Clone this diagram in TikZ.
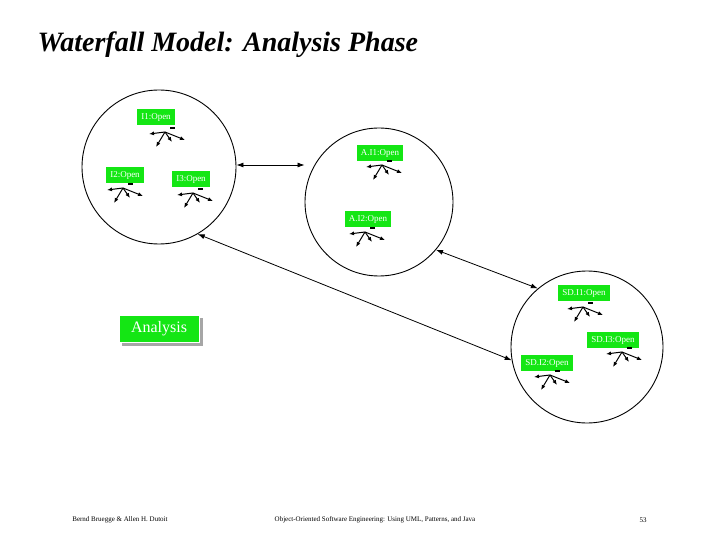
\documentclass[tikz,border=0pt]{standalone}
\usepackage{fontspec}
\setmainfont{Liberation Serif}
\usetikzlibrary{arrows.meta}
\begin{document}
\begin{tikzpicture}[x=1pt,y=-1pt,
  lbl/.style={fill={rgb,255:red,20;green,230;blue,20}, text=white, font=\fontsize{9}{10}\selectfont, inner xsep=4pt, inner ysep=4pt},
  circ/.style={draw=black, line width=0.9pt},
  link/.style={draw=black, line width=0.8pt, {Latex[length=7pt,width=5pt]}-{Latex[length=7pt,width=5pt]}},
  sa/.style={-{Latex[length=5pt,width=4pt]}, line width=1pt}]
\useasboundingbox (0,0) rectangle (720,540);
\newcommand{\mystar}[1]{%
  \draw[sa] (#1) -- ++(-16,2);
  \draw[sa] (#1) -- ++(-9,15);
  \draw[sa] (#1) -- ++(7,10);
  \draw[sa] (#1) -- ++(20,8);
  \draw[line width=2pt] (#1) ++(5,-4) -- ++(5,0);}
\node[anchor=west, font=\fontsize{28}{32}\selectfont\bfseries\itshape] (title) at (34,45) {Waterfall Model: Analysis Phase};
\node[circ, circle, minimum size=154pt] (c1) at (159,167) {};
\node[circ, circle, minimum size=148pt] (c2) at (379,202) {};
\node[circ, circle, minimum size=152pt] (c3) at (587,347) {};
\node[lbl] (i1) at (156,117) {I1:Open};
\node[lbl] (i2) at (125,175) {I2:Open};
\node[lbl] (i3) at (191,179) {I3:Open};
\node[lbl] (a1) at (380,153) {A.I1:Open};
\node[lbl] (a2) at (368,219) {A.I2:Open};
\node[lbl] (s1) at (584,293) {SD.I1:Open};
\node[lbl] (s3) at (613,340) {SD.I3:Open};
\node[lbl] (s2) at (547,363) {SD.I2:Open};
\coordinate (p1) at (165,132); \mystar{p1}
\coordinate (p2) at (123,188); \mystar{p2}
\coordinate (p3) at (193,193); \mystar{p3}
\coordinate (p4) at (382,165); \mystar{p4}
\coordinate (p5) at (365,232); \mystar{p5}
\coordinate (p6) at (583,307); \mystar{p6}
\coordinate (p7) at (622,352); \mystar{p7}
\coordinate (p8) at (550,375); \mystar{p8}
\fill[gray!70] (122,318) rectangle (203,346);
\node[fill={rgb,255:red,20;green,230;blue,20}, draw=white, line width=0.8pt, text=white, font=\fontsize{16}{18}\selectfont, minimum width=80pt, minimum height=27pt] (an) at (159,329) {Analysis};
\draw[link] (c1.east) ++(0,-2) coordinate (e1) (e1) -- (c2.west |- e1);
\draw[link] (c1.-60) -- (c3.190);
\draw[link] (c2.-40) -- (c3.130);
\node[font=\fontsize{7}{8}\selectfont] (f1) at (120,520) {Bernd Bruegge \& Allen H. Dutoit};
\node[font=\fontsize{7}{8}\selectfont] (f2) at (375,520) {Object-Oriented Software Engineering: Using UML, Patterns, and Java};
\node[font=\fontsize{7}{8}\selectfont] (f3) at (643,520) {53};
\end{tikzpicture}
\end{document}
